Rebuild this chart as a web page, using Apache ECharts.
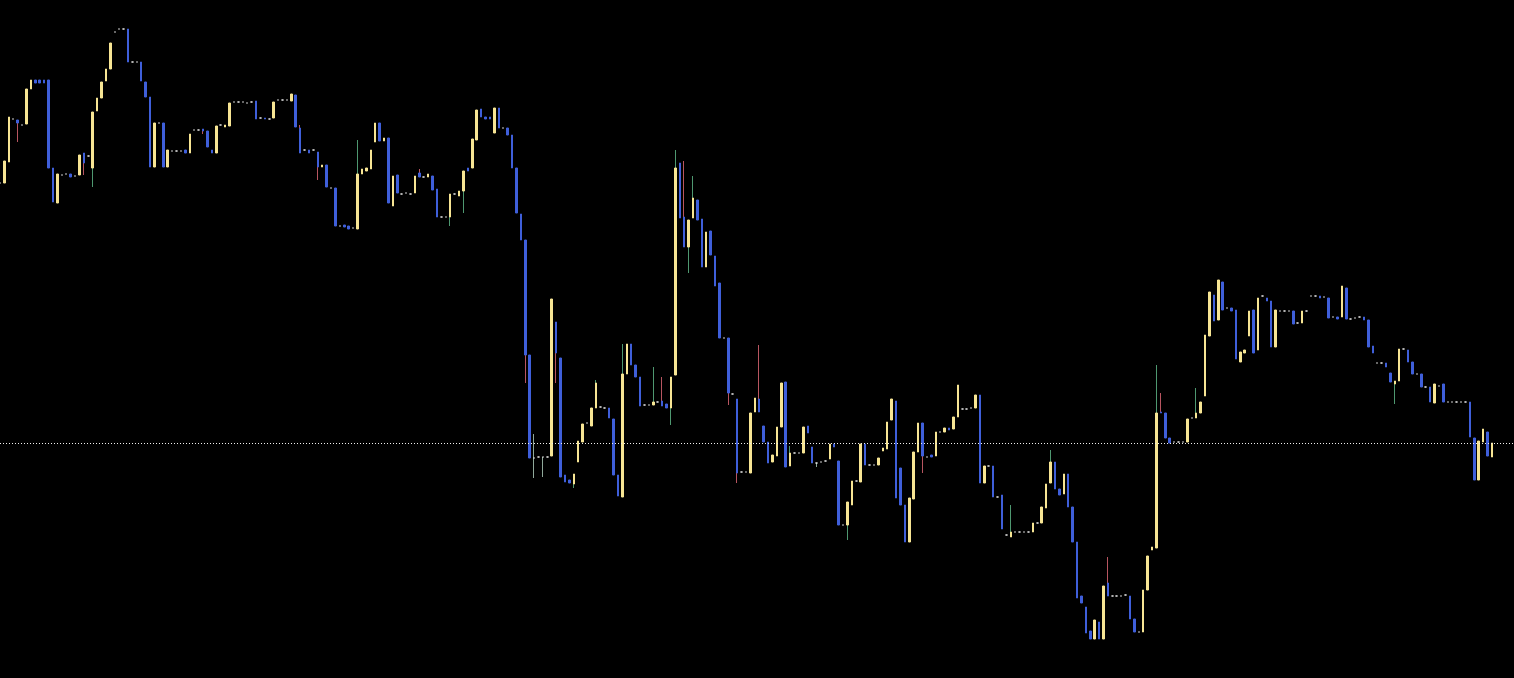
<!DOCTYPE html>
<html>
<head>
<meta charset="utf-8">
<script src="https://cdn.jsdelivr.net/npm/echarts@6/dist/echarts.min.js"></script>
<style>
html,body{margin:0;padding:0;background:#000;}
#chart{width:1514px;height:678px;}
</style>
</head>
<body>
<div id="chart"></div>
<script>
// Price readings (arbitrary price units), one entry per bar
const opens = [
517,517,538,581,580,575,576,611,620,620,
620,620,532,497,525,526,526,524,525,547,
544,532,589,602,619,631,668,671,671,671,
638,638,638,618,603,533,577,577,533,549,
549,549,550,547,570,570,571,569,550,547,
575,573,574,598,598,598,597,598,599,582,
582,581,582,600,600,600,599,605,572,550,
550,550,548,533,535,512,512,474,475,474,
472,471,526,529,531,558,577,559,562,494,
525,506,507,506,507,527,523,523,524,511,
483,483,483,506,504,509,532,532,560,591,
583,583,567,592,572,572,565,532,486,460,
345,242,243,243,243,244,378,342,225,220,
216,238,258,277,274,292,293,292,292,281,
225,203,326,356,335,323,295,295,295,298,
299,296,292,325,537,483,453,482,500,481,
433,469,444,417,362,362,306,301,228,228,
227,288,301,274,258,238,244,273,318,234,
247,247,247,274,253,237,238,239,241,256,
239,175,175,195,219,218,256,235,235,235,
249,251,280,299,232,195,158,201,248,277,
243,245,244,268,268,272,271,283,291,291,
292,292,305,217,234,234,203,205,165,163,
168,168,168,168,168,177,177,192,217,238,
211,206,226,193,158,104,93,69,61,78,
61,117,104,104,104,105,104,81,68,68,
110,150,152,288,287,262,258,258,258,258,
282,282,287,304,364,405,380,418,392,392,
390,338,347,364,390,350,404,402,399,353,
389,389,389,389,377,377,389,404,404,404,
403,402,383,383,383,412,381,382,383,383,
380,354,337,337,337,327,316,319,351,350,
338,326,326,313,313,297,314,316,298,298,
298,298,298,298,262,220,258,268,243
];
const closes = [
517,539,583,581,577,575,611,620,617,617,
617,532,498,526,525,526,523,524,545,537,
544,588,602,618,631,657,668,671,671,638,
638,638,619,603,533,577,577,533,550,549,
549,549,547,566,570,570,569,553,547,574,
575,575,597,598,598,598,597,598,581,582,
581,581,598,600,600,600,606,573,547,550,
547,550,533,535,513,512,474,474,473,471,
472,526,531,532,550,577,559,562,497,524,
507,506,507,506,524,523,523,526,510,483,
483,483,506,506,509,529,529,561,590,583,
581,581,592,572,572,565,532,487,460,345,
242,242,243,243,243,401,347,223,218,217,
226,259,276,277,292,317,293,292,282,225,
204,326,356,335,323,294,295,295,298,298,
294,292,323,532,482,453,480,502,480,433,
468,445,414,362,362,307,306,227,228,228,
287,302,288,258,237,245,273,317,233,247,
247,247,273,267,237,237,238,239,256,253,
175,175,198,219,219,256,235,235,235,242,
252,278,301,202,195,158,202,248,277,244,
243,243,268,268,272,270,283,315,291,291,
292,305,217,234,234,203,203,171,165,168,
168,168,168,168,177,177,193,216,238,211,
205,226,193,158,102,97,67,61,80,61,
114,104,104,104,104,105,81,68,68,110,
144,153,287,287,262,257,258,258,258,281,
282,287,298,365,408,379,420,390,392,389,
341,348,350,389,347,402,404,399,353,390,
389,389,389,376,377,389,389,404,404,402,
403,382,383,381,414,381,381,382,383,380,
353,347,337,337,333,318,319,351,351,338,
326,326,313,313,298,316,314,298,298,298,
298,298,298,263,220,259,271,244,257
];
const lows = [
517,517,538,581,558,575,576,611,617,617,
617,532,498,497,525,526,523,524,525,525,
544,513,589,602,619,631,668,671,671,638,
638,638,619,603,533,533,577,533,533,549,
549,549,547,547,570,570,566,553,547,547,
575,573,574,598,598,598,597,598,581,582,
581,581,582,600,600,600,599,573,547,550,
547,550,520,533,513,512,474,474,473,471,
472,471,526,529,531,558,559,559,497,494,
507,506,507,506,507,523,523,523,510,483,
483,483,474,506,504,487,529,532,560,583,
581,581,567,572,572,565,532,487,460,317,
242,222,243,223,243,244,317,223,218,217,
212,238,258,277,274,292,293,292,282,225,
204,203,326,335,323,294,295,295,295,298,
294,292,275,325,482,453,427,482,480,433,
433,445,414,362,362,295,306,217,228,228,
227,288,288,258,237,238,244,273,233,234,
247,247,247,267,237,233,238,239,241,253,
175,175,160,195,219,218,235,235,235,235,
249,251,280,202,195,158,158,201,248,227,
243,243,244,268,268,270,271,283,291,291,
292,292,217,217,234,203,203,171,165,163,
168,168,168,168,168,177,177,192,217,211,
205,206,193,158,102,97,67,61,61,61,
61,104,104,104,104,105,81,68,68,68,
110,150,152,287,262,257,258,258,258,258,
282,282,287,304,364,379,380,390,392,389,
341,338,347,364,347,350,404,399,353,353,
389,389,389,376,377,377,389,404,404,402,
403,382,383,381,383,381,381,382,383,380,
353,347,337,337,333,318,296,319,351,338,
326,326,313,313,298,297,314,298,298,298,
298,298,298,263,220,220,258,244,243
];
const highs = [
517,539,583,581,580,575,611,620,620,620,
620,620,532,526,525,526,526,524,545,547,
544,588,602,618,631,657,668,671,671,671,
638,638,638,618,603,577,577,577,550,549,
549,549,550,566,570,570,571,569,550,574,
575,575,597,598,598,598,597,598,599,582,
582,581,598,600,600,600,606,605,575,550,
550,550,548,535,535,512,512,474,475,474,
472,560,531,532,550,577,577,562,562,524,
525,506,507,506,524,531,523,526,524,511,
483,483,506,506,509,529,532,561,590,591,
583,583,592,592,572,572,565,532,486,460,
345,266,243,243,243,401,378,342,225,220,
226,259,276,277,292,320,293,292,292,281,
225,356,356,356,335,323,295,295,333,298,
323,296,323,550,537,539,480,524,500,481,
468,469,444,417,362,362,306,301,228,228,
287,302,355,274,258,245,273,317,318,254,
247,247,273,274,253,237,238,239,256,256,
239,175,198,219,219,256,256,235,235,242,
252,278,301,299,232,195,202,248,277,277,
243,245,268,268,272,272,283,315,291,291,
292,305,305,234,234,234,203,205,165,195,
168,168,168,168,177,177,193,216,250,238,
211,226,226,193,158,104,93,69,80,78,
114,143,104,104,104,105,104,81,68,110,
144,153,335,307,287,262,258,258,258,281,
282,312,298,365,408,405,420,418,392,392,
390,348,350,389,390,402,404,402,399,390,
389,389,389,389,377,389,389,404,404,404,
403,402,383,383,414,412,381,382,383,383,
380,354,337,337,337,327,319,351,351,350,
338,326,326,313,313,316,314,316,298,298,
298,298,298,298,262,259,271,268,257
];
// Empty slots kept to the right of the last bar (chart shift)
const rightShiftBars = 5;
const categories = Array.from({length: opens.length + rightShiftBars}, (_, i) => 'Bar ' + (i + 1));

const UP = '#F7E594', DOWN = '#3F5FDA', UP_WICK = '#4E9870', DOWN_WICK = '#B85560', DOJI = '#ECECEC';

const full = opens.map((o, i) => [o, closes[i], lows[i], highs[i]]);
const bodies = opens.map((o, i) => [o, closes[i], Math.min(o, closes[i]), Math.max(o, closes[i])]);

const chart = echarts.init(document.getElementById('chart'), null, {renderer: 'canvas'});
chart.setOption({
  backgroundColor: '#000000',
  animation: false,
  grid: {left: 0, right: 0, top: 0, bottom: 0},
  xAxis: {type: 'category', data: categories, boundaryGap: false, show: false},
  yAxis: {type: 'value', min: 22, max: 700, show: false, scale: true},
  series: [
    {
      name: 'wicks', type: 'candlestick', data: full, barWidth: 1,
      itemStyle: {color: UP_WICK, color0: DOWN_WICK, borderColor: UP_WICK, borderColor0: DOWN_WICK, borderColorDoji: '#8FA89A', borderWidth: 1}
    },
    {
      name: 'bodies', type: 'candlestick', data: bodies, barWidth: 2,
      itemStyle: {color: UP, color0: DOWN, borderColor: UP, borderColor0: DOWN, borderColorDoji: DOJI, borderWidth: 1},
      markLine: {
        silent: true, symbol: ['none', 'none'], animation: false,
        label: {show: false},
        lineStyle: {color: '#F0F0F0', type: [1, 2], width: 1.2, opacity: 1},
        data: [{yAxis: closes[closes.length - 1]}]
      }
    }
  ]
});
</script>
</body>
</html>
